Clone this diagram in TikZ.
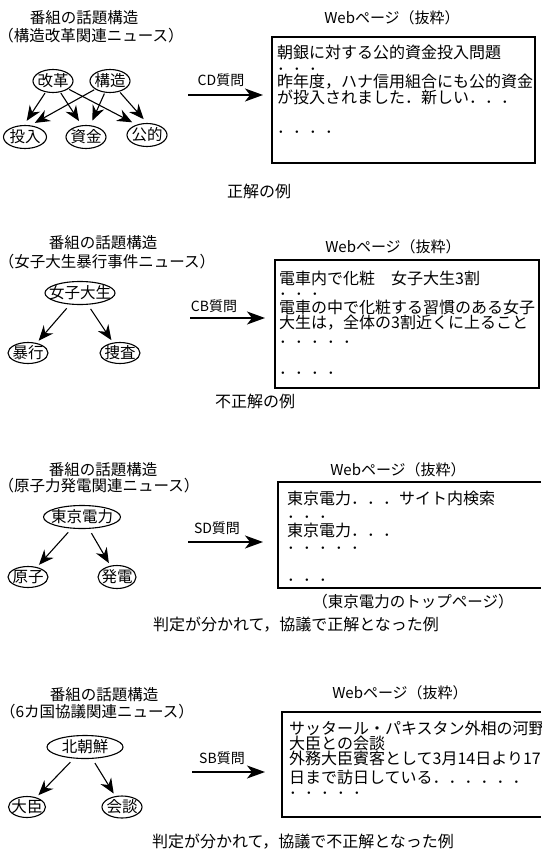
\documentclass[tikz,border=0pt]{standalone}
\usepackage{fontspec}
\setmainfont{Noto Sans CJK JP}
\usetikzlibrary{shapes.geometric,arrows.meta}
\newcommand\fsz[1]{\fontsize{#1}{#1}\selectfont}
\newcommand\zbx[1]{\makebox[0pt]{#1}}
\begin{document}
\begin{tikzpicture}[x=1pt,y=-1pt,
  ttl/.style={inner sep=0pt, font=\fsz{15.5}},
  wtl/.style={inner sep=0pt, font=\fsz{15}},
  ell/.style={draw, ellipse, line width=1.1pt, inner sep=0pt, minimum height=23pt, font=\fsz{15.5}},
  lnk/.style={line width=1.1pt, -{Stealth[length=15pt,width=12.5pt,inset=5pt]}, shorten >=3pt, shorten <=1pt},
  qarr/.style={line width=1.2pt, -{Stealth[length=18pt,width=13pt,inset=5pt]}},
  qlbl/.style={inner sep=0pt, font=\fsz{14}},
  frame/.style={line width=1.2pt},
  btx/.style={anchor=base west, inner sep=0pt, font=\fsz{16}},
  capt/.style={inner sep=0pt, font=\fsz{16}}
]
\useasboundingbox (0,0) rectangle (541,856);

% ---------- Panel 1 ----------
\node[ttl] (t1a) at (84,18) {番組の話題構造};
\node[ttl] (t1b) at (91,36) {（構造改革関連ニュース）};
\node[ell, minimum width=40pt] (kaikaku) at (53,81) {\zbx{改革}};
\node[ell, minimum width=40pt] (kouzou) at (110,81) {\zbx{構造}};
\node[ell, minimum width=43pt] (tounyu) at (25,137) {\zbx{投入}};
\node[ell, minimum width=40pt] (shikin) at (86,137) {\zbx{資金}};
\node[ell, minimum width=40pt] (kouteki) at (147,135) {\zbx{公的}};
\draw[lnk, shorten >=5pt] (kaikaku) -- (tounyu.95);
\draw[lnk, shorten >=5pt] (kaikaku) -- (shikin.110);
\draw[lnk, shorten >=5pt] (kaikaku) -- (kouteki.135);
\draw[lnk, shorten >=5pt] (kouzou) -- (tounyu.65);
\draw[lnk, shorten >=5pt] (kouzou) -- (shikin.70);
\draw[lnk, shorten >=5pt] (kouzou) -- (kouteki.north);
\coordinate (q1s) at (188,95);
\coordinate (q1e) at (263,95);
\draw[qarr] (q1s) -- (q1e);
\node[qlbl] (q1l) at (221,80) {CD質問};
\node[wtl] (w1) at (392,18) {Webページ（抜粋）};
\draw[frame] (272,37) rectangle (535,163);
\node[btx] (p1l1) at (277,59) {朝銀に対する公的資金投入問題};
\node[btx] (p1d1) at (277,71) {．．．};
\node[btx] (p1l2) at (277,88) {昨年度，ハナ信用組合にも公的資金};
\node[btx] (p1l3) at (277,103) {が投入されました．新しい．．．};
\node[btx] (p1d2) at (277,134) {．．．．};
\node[capt] (c1) at (259,191) {正解の例};

% ---------- Panel 2 ----------
\node[ttl] (t2a) at (103,243) {番組の話題構造};
\node[ttl] (t2b) at (107,262) {（女子大生暴行事件ニュース）};
\node[ell, minimum width=70pt] (joshi) at (80,293) {\zbx{女子大生}};
\node[ell, minimum width=40pt, minimum height=21pt] (boukou) at (28,353) {\zbx{暴行}};
\node[ell, minimum width=40pt, minimum height=21pt] (sousa) at (120,353) {\zbx{捜査}};
\draw[lnk, shorten <=5pt] (joshi) -- (boukou);
\draw[lnk, shorten <=5pt] (joshi) -- (sousa);
\coordinate (q2s) at (190,318);
\coordinate (q2e) at (265,318);
\draw[qarr] (q2s) -- (q2e);
\node[qlbl] (q2l) at (214,306) {CB質問};
\node[wtl] (w2) at (393,247) {Webページ（抜粋）};
\draw[frame] (275,260) rectangle (539,388);
\node[btx] (p2l1) at (279,284) {電車内で化粧　女子大生3割};
\node[btx] (p2d1) at (279,295) {．．．};
\node[btx] (p2l2) at (279,313) {電車の中で化粧する習慣のある女子};
\node[btx] (p2l3) at (279,328) {大生は，全体の3割近くに上ること};
\node[btx] (p2d2) at (279,343) {．．．．．};
\node[btx] (p2d3) at (279,374) {．．．．};
\node[capt] (c2) at (255,401) {不正解の例};

% ---------- Panel 3 ----------
\node[ttl] (t3a) at (103,470) {番組の話題構造};
\node[ttl] (t3b) at (99,486) {（原子力発電関連ニュース）};
\node[ell, minimum width=77pt] (touden) at (82,517) {\zbx{東京電力}};
\node[ell, minimum width=40pt, minimum height=21pt] (genshi) at (28,577) {\zbx{原子}};
\node[ell, minimum width=38pt] (hatsuden) at (117,577) {\zbx{発電}};
\draw[lnk, shorten <=5pt] (touden) -- (genshi);
\draw[lnk, shorten <=5pt] (touden) -- (hatsuden);
\coordinate (q3s) at (188,542);
\coordinate (q3e) at (263,542);
\draw[qarr] (q3s) -- (q3e);
\node[qlbl] (q3l) at (217,528) {SD質問};
\node[wtl] (w3) at (398,470) {Webページ（抜粋）};
\draw[frame] (541,482) -- (278,482) -- (278,588) -- (541,588);
\node[btx] (p3l1) at (287,504) {東京電力．．．サイト内検索};
\node[btx] (p3d1) at (287,518) {．．．};
\node[btx] (p3l2) at (287,536) {東京電力．．．};
\node[btx] (p3d2) at (287,549) {．．．．．};
\node[btx] (p3d3) at (287,581) {．．．};
\node[ttl] (p3n) at (413,602) {（東京電力のトップページ）};
\node[capt] (c3) at (296,625) {判定が分かれて，協議で正解となった例};

% ---------- Panel 4 ----------
\node[ttl] (t4a) at (104,695) {番組の話題構造};
\node[ttl] (t4b) at (97,712) {（6カ国協議関連ニュース）};
\node[ell, minimum width=76pt] (kita) at (85,747) {\zbx{北朝鮮}};
\node[ell, minimum width=37pt, minimum height=21pt] (daijin) at (27,807) {\zbx{大臣}};
\node[ell, minimum width=40pt, minimum height=22pt] (kaidan) at (122,807) {\zbx{会談}};
\draw[lnk, shorten <=5pt] (kita) -- (daijin);
\draw[lnk, shorten <=5pt] (kita) -- (kaidan);
\coordinate (q4s) at (192,772);
\coordinate (q4e) at (265,772);
\draw[qarr] (q4s) -- (q4e);
\node[qlbl] (q4l) at (222,758) {SB質問};
\node[wtl] (w4) at (400,693) {Webページ（抜粋）};
\draw[frame] (541,712) -- (282,712) -- (282,817) -- (541,817);
\node[btx] (p4l1) at (289,734) {サッタール・パキスタン外相の河野};
\node[btx] (p4l2) at (289,749) {大臣との会談};
\node[btx] (p4l3) at (289,764) {外務大臣賓客として3月14日より17};
\node[btx] (p4l4) at (289,783) {日まで訪日している．．．．．．};
\node[btx] (p4d1) at (289,794) {．．．．．};
\node[capt] (c4) at (303,842) {判定が分かれて，協議で不正解となった例};
\end{tikzpicture}
\end{document}
